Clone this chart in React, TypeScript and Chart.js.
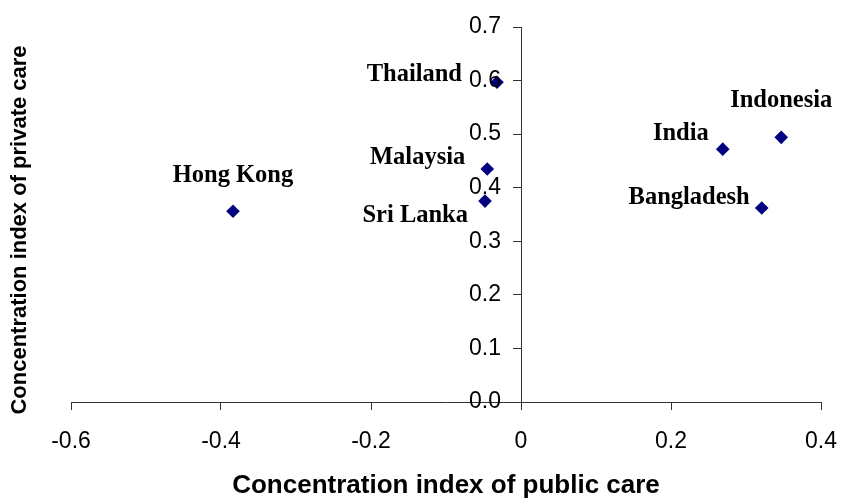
import React, { useEffect, useRef } from "react";
import { Chart, registerables } from "chart.js";

Chart.register(...registerables);

// ---- data ----
const countries = ["Hong Kong", "Thailand", "Malaysia", "Sri Lanka", "India", "Indonesia", "Bangladesh"];
const publicCareCI = [-0.384, -0.032, -0.045, -0.048, 0.269, 0.347, 0.321];
const privateCareCI = [0.356, 0.597, 0.435, 0.375, 0.472, 0.494, 0.362];

const xTitle = "Concentration index of public care";
const yTitle = "Concentration index of private care";

// label placement (pixel offsets from each point, and text alignment)
const labelPlacement: { dx: number; dy: number; align: CanvasTextAlign }[] = [
  { dx: 0, dy: -36, align: "center" },
  { dx: -35, dy: -8, align: "right" },
  { dx: -22, dy: -11, align: "right" },
  { dx: -17, dy: 15, align: "right" },
  { dx: -14, dy: -15, align: "right" },
  { dx: 0, dy: -37, align: "center" },
  { dx: -12, dy: -10, align: "right" },
];

const SANS = "'Liberation Sans', Arial, sans-serif";
const SERIF = "'Liberation Serif', 'Times New Roman', serif";
const AXIS_COLOR = "#333333";
const Y_TICK_LEN = 8;
const Y_TICK_PAD = 12;

const pointLabelsPlugin = {
  id: "pointLabels",
  afterDatasetsDraw(chart: any) {
    const meta = chart.getDatasetMeta(0);
    const ctx = chart.ctx;
    ctx.save();
    ctx.font = `bold 24.5px ${SERIF}`;
    ctx.fillStyle = "#000000";
    ctx.textBaseline = "middle";
    meta.data.forEach((el: any, i: number) => {
      const p = labelPlacement[i];
      ctx.textAlign = p.align;
      ctx.fillText(countries[i], el.x + p.dx, el.y + p.dy);
    });
    ctx.restore();
  },
};

// y tick labels, drawn to the left of the y axis that crosses at x = 0
const yTickLabelsPlugin = {
  id: "yTickLabels",
  afterDraw(chart: any) {
    const xs = chart.scales.x;
    const ys = chart.scales.y;
    const ctx = chart.ctx;
    const axisX = xs.getPixelForValue(0);
    ctx.save();
    ctx.font = `23px ${SANS}`;
    ctx.fillStyle = "#000000";
    ctx.textAlign = "right";
    ctx.textBaseline = "middle";
    ys.ticks.forEach((t: any) => {
      ctx.fillText(Number(t.value).toFixed(1), axisX - Y_TICK_LEN - Y_TICK_PAD, ys.getPixelForValue(t.value));
    });
    ctx.restore();
  },
};

const yTitlePlugin = {
  id: "yTitleLeft",
  afterDraw(chart: any) {
    const ctx = chart.ctx;
    ctx.save();
    ctx.translate(20, 230);
    ctx.rotate(-Math.PI / 2);
    ctx.font = `bold 22px ${SANS}`;
    ctx.fillStyle = "#000000";
    ctx.textAlign = "center";
    ctx.textBaseline = "middle";
    ctx.fillText(yTitle, 0, 0);
    ctx.restore();
  },
};

export default function App() {
  const ref = useRef<HTMLCanvasElement | null>(null);

  useEffect(() => {
    if (!ref.current) return;
    const chart = new Chart(ref.current, {
      type: "scatter",
      data: {
        datasets: [
          {
            data: publicCareCI.map((x, i) => ({ x, y: privateCareCI[i] })),
            pointStyle: "rectRot",
            pointRadius: 6.8,
            pointHoverRadius: 6.8,
            backgroundColor: "#000080",
            borderColor: "#000080",
            borderWidth: 0,
          },
        ],
      },
      options: {
        responsive: false,
        animation: false,
        layout: { padding: { left: 71, right: 20, top: 27, bottom: 0 } },
        plugins: {
          legend: { display: false },
          tooltip: { enabled: false },
        },
        scales: {
          x: {
            type: "linear",
            position: "bottom",
            min: -0.6,
            max: 0.4,
            ticks: {
              stepSize: 0.2,
              color: "#000000",
              padding: 0,
              font: { family: SANS, size: 23, lineHeight: 63 / 23 },
              maxRotation: 0,
            },
            grid: {
              display: true,
              drawOnChartArea: false,
              drawTicks: true,
              tickLength: 8,
              color: AXIS_COLOR,
            },
            border: { display: true, color: AXIS_COLOR, width: 1 },
            title: {
              display: true,
              text: xTitle,
              color: "#000000",
              font: { family: SANS, size: 26, weight: "bold", lineHeight: 1 },
              padding: { top: 0, bottom: 0 },
            },
          },
          y: {
            type: "linear",
            position: { x: 0 } as any,
            min: 0,
            max: 0.7,
            ticks: {
              stepSize: 0.1,
              display: false,
            },
            grid: {
              display: true,
              drawOnChartArea: false,
              drawTicks: true,
              tickLength: Y_TICK_LEN,
              color: AXIS_COLOR,
            },
            border: { display: true, color: AXIS_COLOR, width: 1 },
          },
        },
      },
      plugins: [pointLabelsPlugin, yTickLabelsPlugin, yTitlePlugin],
    });
    return () => chart.destroy();
  }, []);

  return (
    <div style={{ position: "absolute", left: 0, top: 0, width: 841, height: 499, background: "#ffffff" }}>
      <canvas ref={ref} width={841} height={499} style={{ display: "block" }} />
    </div>
  );
}
